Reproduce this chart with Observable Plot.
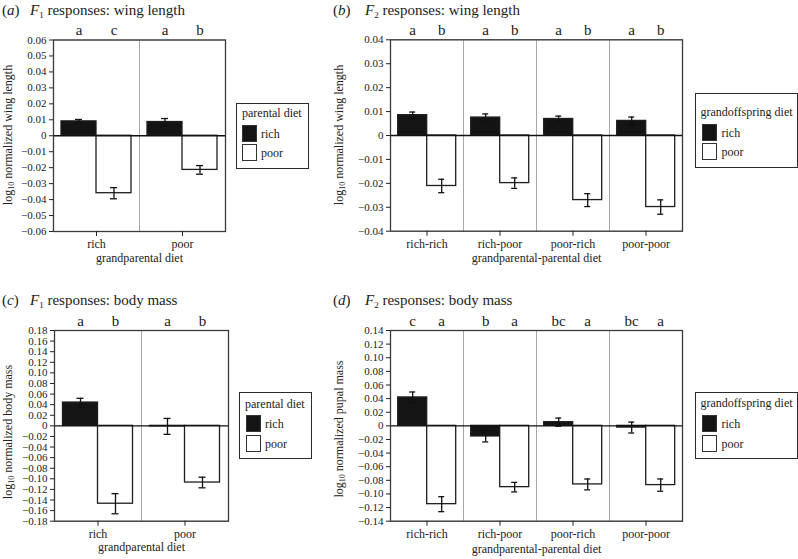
<!DOCTYPE html>
<html><head><meta charset="utf-8">
<script src="https://cdn.jsdelivr.net/npm/d3@7"></script>
<script src="https://cdn.jsdelivr.net/npm/@observablehq/plot@0.6"></script>
<style>
html,body{margin:0;padding:0;background:#fff;}
#root{position:relative;width:798px;height:559px;background:#fff;font-family:"Liberation Serif",serif;color:#222;overflow:hidden;}
.abs{position:absolute;font-family:"Liberation Serif",serif;}
.title{font-size:15px;white-space:nowrap;line-height:1;}
.title sub{font-size:9px;vertical-align:-3px;}
.ylab{font-size:12px;white-space:nowrap;transform:translate(-50%,-50%) rotate(-90deg);line-height:1;}
.ylab sub{font-size:8px;vertical-align:-2px;}
.legend{border:1.5px solid #2a2a2a;box-sizing:border-box;background:#fff;}
.lt{font-size:12px;white-space:nowrap;line-height:1;}
.sw{border:1.5px solid #333;box-sizing:border-box;}
.ll{font-size:12px;line-height:1;white-space:nowrap;}
</style></head>
<body><div id="root"></div>
<script>
// ---------- data ----------
const diets = ["rich", "poor"];

// (a) F1 wing length
const groupsA = ["rich", "poor"];
const richA = [0.0090, 0.0086];
const richErrA = [0.0012, 0.0022];
const poorA = [-0.0360, -0.0214];
const poorErrA = [0.0035, 0.0027];
const richLetA = ["a", "a"];
const poorLetA = ["c", "b"];
const yTicksA = [-0.06, -0.05, -0.04, -0.03, -0.02, -0.01, 0, 0.01, 0.02, 0.03, 0.04, 0.05, 0.06];

// (b) F2 wing length
const groupsB = ["rich-rich", "rich-poor", "poor-rich", "poor-poor"];
const richB = [0.0085, 0.0075, 0.0069, 0.0061];
const richErrB = [0.0013, 0.0015, 0.0012, 0.0016];
const poorB = [-0.0211, -0.0199, -0.0270, -0.0299];
const poorErrB = [0.0028, 0.0022, 0.0027, 0.0030];
const richLetB = ["a", "a", "a", "a"];
const poorLetB = ["b", "b", "b", "b"];
const yTicksB = [-0.04, -0.03, -0.02, -0.01, 0, 0.01, 0.02, 0.03, 0.04];

// (c) F1 body mass
const groupsC = ["rich", "poor"];
const richC = [0.044, -0.001];
const richErrC = [0.008, 0.015];
const poorC = [-0.147, -0.107];
const poorErrC = [0.019, 0.010];
const richLetC = ["a", "a"];
const poorLetC = ["b", "b"];
const yTicksC = [-0.18, -0.16, -0.14, -0.12, -0.10, -0.08, -0.06, -0.04, -0.02, 0, 0.02, 0.04, 0.06, 0.08, 0.10, 0.12, 0.14, 0.16, 0.18];

// (d) F2 pupal mass
const groupsD = ["rich-rich", "rich-poor", "poor-rich", "poor-poor"];
const richD = [0.0417, -0.0156, 0.0054, -0.0025];
const richErrD = [0.008, 0.008, 0.006, 0.008];
const poorD = [-0.115, -0.090, -0.086, -0.087];
const poorErrD = [0.011, 0.007, 0.008, 0.009];
const richLetD = ["c", "b", "bc", "bc"];
const poorLetD = ["a", "a", "a", "a"];
const yTicksD = [-0.14, -0.12, -0.10, -0.08, -0.06, -0.04, -0.02, 0, 0.02, 0.04, 0.06, 0.08, 0.10, 0.12, 0.14];

// ---------- helpers ----------
const root = document.getElementById("root");
const fmt = d => Math.abs(d) < 1e-9 ? "0" : d3.format(".2f")(d);
const SERIF = "Liberation Serif";

function table(groups, rich, richErr, poor, poorErr, richLet, poorLet) {
  return groups.flatMap((g, i) => [
    {group: g, diet: "rich", value: rich[i], err: richErr[i], letter: richLet[i]},
    {group: g, diet: "poor", value: poor[i], err: poorErr[i], letter: poorLet[i]}
  ]);
}

function el(html, cls, style) {
  const d = document.createElement("div");
  d.className = "abs " + (cls || "");
  d.innerHTML = html;
  Object.assign(d.style, style);
  root.appendChild(d);
  return d;
}

function panel(cfg) {
  const {data, groups, yTicks, box, frame, pad, inset, xlabel, labelOffset} = cfg;
  const chart = Plot.plot({
    width: box.w, height: box.h,
    marginLeft: frame.l - box.x, marginRight: box.x + box.w - frame.r,
    marginTop: frame.t - box.y, marginBottom: box.y + box.h - frame.b,
    style: {fontFamily: SERIF, fontSize: "11px", color: "#222", background: "transparent", overflow: "visible"},
    fx: {domain: groups, padding: 0},
    x: {domain: diets, axis: null, paddingInner: 0, paddingOuter: pad},
    y: {domain: [yTicks[0], yTicks[yTicks.length - 1]]},
    color: {domain: diets, range: ["#141414", "#ffffff"]},
    marks: [
      Plot.frame({stroke: "#a8a8a8", strokeWidth: 1}),
      Plot.barY(data, {fx: "group", x: "diet", y: "value", fill: "diet", stroke: "#1e1e1e", strokeWidth: 1.3}),
      Plot.ruleY([0], {stroke: "#111", strokeWidth: 1.3}),
      Plot.ruleX(data, {fx: "group", x: "diet", y1: d => d.value - d.err, y2: d => d.value + d.err, stroke: "#111", strokeWidth: 1.3}),
      Plot.tickY(data, {fx: "group", x: "diet", y: d => d.value - d.err, inset, stroke: "#111", strokeWidth: 1.3}),
      Plot.tickY(data, {fx: "group", x: "diet", y: d => d.value + d.err, inset, stroke: "#111", strokeWidth: 1.3}),
      Plot.text(data, {fx: "group", x: "diet", text: "letter", frameAnchor: "top", lineAnchor: "middle", dy: -9.5, fontSize: 15, fill: "#1a1a1a"}),
      Plot.frame({stroke: "#3a3a3a", strokeWidth: 1.3, facet: "super"}),
      Plot.axisY({ticks: yTicks, tickFormat: fmt, tickSize: 4, tickPadding: 3, fontSize: 11, label: null}),
      Plot.axisFx({anchor: "bottom", tickSize: 5, tickPadding: 3, fontSize: 12, label: xlabel, labelAnchor: "center", labelOffset})
    ]
  });
  chart.style.position = "absolute";
  chart.style.left = box.x + "px";
  chart.style.top = box.y + "px";
  root.appendChild(chart);
}

function legend(title, b, o) {
  el("", "legend", {left: b.x + "px", top: b.y + "px", width: b.w + "px", height: b.h + "px"});
  el(title, "lt", {left: (b.x + o.tx) + "px", top: (b.y + o.ty) + "px"});
  el("", "sw", {left: (b.x + o.sx) + "px", top: (b.y + o.s1) + "px", width: "15px", height: "17px", background: "#141414"});
  el("", "sw", {left: (b.x + o.sx) + "px", top: (b.y + o.s2) + "px", width: "15px", height: "17px", background: "#fff"});
  el("rich", "ll", {left: (b.x + o.lx) + "px", top: (b.y + o.s1 + 3) + "px"});
  el("poor", "ll", {left: (b.x + o.lx) + "px", top: (b.y + o.s2 + 3) + "px"});
}

// ---------- panels ----------
panel({
  data: table(groupsA, richA, richErrA, poorA, poorErrA, richLetA, poorLetA),
  groups: groupsA, yTicks: yTicksA,
  box: {x: 0, y: 0, w: 232, h: 280}, frame: {l: 53, r: 225, t: 39.5, b: 231},
  pad: 0.21, inset: 14, xlabel: "grandparental diet", labelOffset: 30
});
panel({
  data: table(groupsB, richB, richErrB, poorB, poorErrB, richLetB, poorLetB),
  groups: groupsB, yTicks: yTicksB,
  box: {x: 340, y: 0, w: 350, h: 280}, frame: {l: 389.3, r: 683.3, t: 39.3, b: 230.7},
  pad: 0.22, inset: 11.5, xlabel: "grandparental-parental diet", labelOffset: 31
});
panel({
  data: table(groupsC, richC, richErrC, poorC, poorErrC, richLetC, poorLetC),
  groups: groupsC, yTicks: yTicksC,
  box: {x: 0, y: 280, w: 235, h: 279}, frame: {l: 53.5, r: 227.7, t: 330, b: 520.7},
  pad: 0.24, inset: 14, xlabel: "grandparental diet", labelOffset: 30
});
panel({
  data: table(groupsD, richD, richErrD, poorD, poorErrD, richLetD, poorLetD),
  groups: groupsD, yTicks: yTicksD,
  box: {x: 340, y: 280, w: 350, h: 279}, frame: {l: 389.3, r: 683.3, t: 330, b: 520.7},
  pad: 0.22, inset: 11.5, xlabel: "grandparental-parental diet", labelOffset: 32
});

// ---------- titles ----------
el('(<i>a</i>)', "title", {left: "2px", top: "3px"});
el('<i>F</i><sub>1</sub> responses: wing length', "title", {left: "30px", top: "3px"});
el('(<i>b</i>)', "title", {left: "333px", top: "3px"});
el('<i>F</i><sub>2</sub> responses: wing length', "title", {left: "365px", top: "3px"});
el('(<i>c</i>)', "title", {left: "2px", top: "293px"});
el('<i>F</i><sub>1</sub> responses: body mass', "title", {left: "30px", top: "293px"});
el('(<i>d</i>)', "title", {left: "333px", top: "293px"});
el('<i>F</i><sub>2</sub> responses: body mass', "title", {left: "365px", top: "293px"});

// ---------- y labels ----------
el('log<sub>10</sub> normalized wing length', "ylab", {left: "8.5px", top: "135px"});
el('log<sub>10</sub> normalized wing length', "ylab", {left: "340px", top: "135px"});
el('log<sub>10</sub> normalized body mass', "ylab", {left: "8.5px", top: "432px"});
el('log<sub>10</sub> normalized pupal mass', "ylab", {left: "340px", top: "429px"});

// ---------- legends ----------
legend("parental diet", {x: 236, y: 103, w: 73, h: 66}, {tx: 6, ty: 4, sx: 6, s1: 22, s2: 41, lx: 25});
legend("grandoffspring diet", {x: 694.5, y: 93, w: 103, h: 74.5}, {tx: 6, ty: 13, sx: 7, s1: 31, s2: 50, lx: 27});
legend("parental diet", {x: 239, y: 391.5, w: 73, h: 67}, {tx: 6, ty: 6, sx: 7, s1: 23, s2: 43, lx: 26});
legend("grandoffspring diet", {x: 694.5, y: 392, w: 103, h: 66.5}, {tx: 6, ty: 5, sx: 7, s1: 23, s2: 43, lx: 27});
</script>
</body></html>
